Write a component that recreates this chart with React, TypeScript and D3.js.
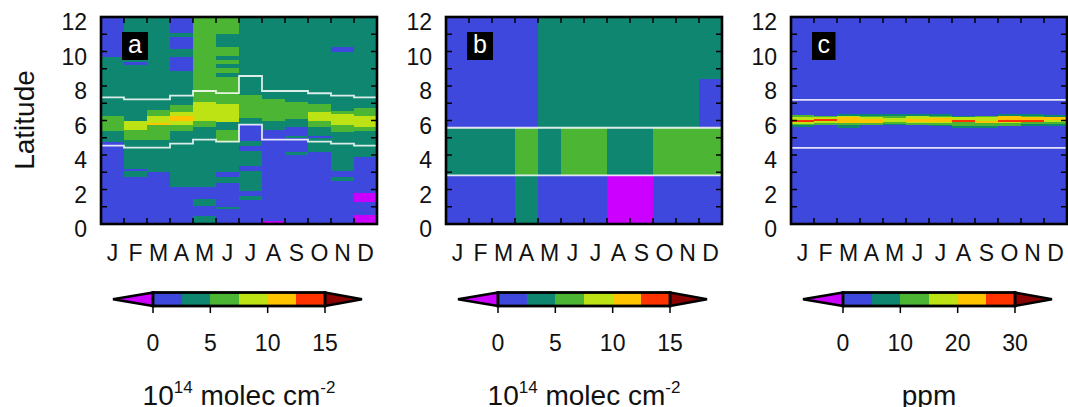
import React from 'react';
import * as d3 from 'd3';

const months = ['J', 'F', 'M', 'A', 'M', 'J', 'J', 'A', 'S', 'O', 'N', 'D'];
const latTicks = [0, 2, 4, 6, 8, 10, 12];

// colour classes (below range, 6 classes, above range)
const palette = ['#cc00ff', '#3f48dc', '#0f8670', '#4cb634', '#bde315', '#ffc400', '#ff3300', '#8b0000'];
const breaksColumn = [0, 2.5, 5, 7.5, 10, 12.5, 15];
const breaksPpm = [0, 5, 10, 15, 20, 25, 30];
const ticksColumn = [0, 5, 10, 15];
const ticksPpm = [0, 10, 20, 30];

// each month: list of [upper latitude, value]; a cell runs down to the next entry (or to 0)
const colsA = [
  [[12, 1.2], [9.66, 3.8], [6.28, 6.3], [5.41, 3.8], [4.77, 1.2]],
  [[12, 3.8], [9.41, 1.2], [9.24, 3.8], [5.99, 8.8], [5.45, 6.3], [4.87, 3.8], [3.19, 1.2], [3.05, 3.8], [2.71, 1.2]],
  [[12, 3.8], [6.61, 6.3], [6.26, 8.8], [5.84, 11.2], [5.74, 6.3], [4.87, 3.8], [3.0, 1.2]],
  [[12, 1.2], [11.1, 3.8], [10.86, 1.2], [10.14, 3.8], [9.66, 1.2], [8.89, 3.8], [6.92, 6.3], [6.47, 8.8], [6.28, 11.2], [5.99, 8.8], [5.74, 6.3], [5.41, 3.8], [2.13, 1.2]],
  [[12, 6.3], [7.05, 8.8], [5.99, 6.3], [5.6, 3.8], [2.13, 1.2], [1.45, 3.8], [1.06, 1.2], [0.48, 3.8]],
  [[12, 6.3], [11.0, 3.8], [10.28, 6.3], [9.76, 3.8], [9.53, 6.3], [9.28, 3.8], [9.03, 6.3], [8.74, 3.8], [8.54, 6.3], [6.96, 8.8], [5.89, 3.8], [5.45, 6.3], [4.73, 3.8], [3.04, 1.2], [2.74, 3.8], [2.36, 1.2], [1.0, 3.8], [0.87, 1.2]],
  [[12, 3.8], [7.48, 6.3], [6.14, 3.8], [5.8, 1.2], [4.83, 3.8], [4.54, 1.2], [4.21, 3.8], [3.38, 1.2], [3.05, 3.8], [1.89, 1.2], [1.64, 3.8], [1.39, 1.2]],
  [[12, 3.8], [7.25, 6.3], [5.99, 3.8], [5.45, 1.2], [0.2, -0.6]],
  [[12, 3.8], [7.1, 6.3], [6.1, 3.8], [5.6, 1.2], [5.12, 3.8], [4.98, 1.2], [4.15, 3.8], [4.01, 1.2]],
  [[12, 3.8], [6.96, 6.3], [6.51, 8.8], [5.99, 6.3], [5.6, 3.8], [5.12, 1.2], [4.98, 3.8], [4.2, 1.2]],
  [[12, 3.8], [10.28, 1.2], [10.0, 3.8], [6.57, 6.3], [6.4, 8.8], [5.76, 6.3], [5.31, 3.8], [3.05, 1.2], [2.74, 3.8], [2.51, 1.2]],
  [[12, 3.8], [6.72, 6.3], [6.28, 8.8], [5.64, 6.3], [5.41, 3.8], [3.86, 1.2], [1.77, -0.6], [1.3, 1.2], [0.54, -0.6]],
];
// monthly band edges drawn as white step lines on panel a
const northA = [7.34, 7.23, 7.23, 7.44, 7.71, 7.59, 8.58, 7.71, 7.71, 7.58, 7.44, 7.34];
const southA = [4.54, 4.43, 4.43, 4.66, 4.89, 4.77, 5.76, 4.89, 4.89, 4.77, 4.66, 4.54];

const colsB = [
  [[12, 1.2], [5.58, 3.8], [2.82, 1.2]],
  [[12, 1.2], [5.58, 3.8], [2.82, 1.2]],
  [[12, 1.2], [5.58, 3.8], [2.82, 1.2]],
  [[12, 1.2], [5.58, 6.3], [2.82, 3.8]],
  [[12, 3.8], [2.82, 1.2]],
  [[12, 3.8], [5.58, 6.3], [2.82, 1.2]],
  [[12, 3.8], [5.58, 6.3], [2.82, 1.2]],
  [[12, 3.8], [2.82, -0.6]],
  [[12, 3.8], [2.82, -0.6]],
  [[12, 3.8], [5.58, 6.3], [2.82, 1.2]],
  [[12, 3.8], [5.58, 6.3], [2.82, 1.2]],
  [[12, 3.8], [8.4, 1.2], [5.58, 6.3], [2.82, 1.2]],
];
const linesB = [5.58, 2.82];

const colsC = [
  [[12, 2], [6.3, 12.5], [6.2, 17.5], [6.05, 27.5], [5.9, 17.5], [5.82, 12.5], [5.74, 7.5], [5.64, 2]],
  [[12, 2], [6.26, 12.5], [6.19, 17.5], [6.09, 27.5], [5.97, 17.5], [5.84, 12.5], [5.74, 2]],
  [[12, 2], [6.36, 7.5], [6.26, 17.5], [6.19, 22.5], [5.84, 12.5], [5.74, 7.5], [5.54, 2]],
  [[12, 2], [6.36, 7.5], [6.26, 12.5], [6.19, 17.5], [6.09, 22.5], [5.84, 12.5], [5.74, 2]],
  [[12, 2], [6.38, 7.5], [6.28, 12.5], [6.17, 17.5], [5.89, 12.5], [5.82, 7.5], [5.76, 2]],
  [[12, 2], [6.36, 7.5], [6.26, 17.5], [6.09, 22.5], [5.93, 17.5], [5.84, 12.5], [5.74, 2]],
  [[12, 2], [6.36, 7.5], [6.26, 12.5], [6.19, 17.5], [6.12, 22.5], [5.89, 17.5], [5.84, 12.5], [5.74, 7.5], [5.68, 2]],
  [[12, 2], [6.26, 7.5], [6.19, 17.5], [6.03, 27.5], [5.89, 12.5], [5.7, 7.5], [5.58, 2]],
  [[12, 2], [6.26, 12.5], [6.19, 17.5], [5.99, 22.5], [5.84, 12.5], [5.7, 7.5], [5.58, 2]],
  [[12, 2], [6.36, 7.5], [6.26, 22.5], [6.03, 27.5], [5.89, 17.5], [5.84, 12.5], [5.7, 2]],
  [[12, 2], [6.36, 7.5], [6.26, 12.5], [6.19, 22.5], [6.03, 27.5], [5.89, 12.5], [5.8, 7.5], [5.7, 2]],
  [[12, 2], [6.32, 7.5], [6.22, 22.5], [6.03, 17.5], [5.93, 12.5], [5.8, 7.5], [5.7, 2]],
];
const linesC = [7.19, 4.41];

const FONT = '"Liberation Sans", Arial, Helvetica, sans-serif';
const TOP = 17;
const H = 207;
const W = 276;
const TICK_FS = 23;

const panels = [
  { left: 101, letter: 'a', boxW: 26, cols: colsA, breaks: breaksColumn, ticks: ticksColumn, unit: 'molec', steps: [northA, southA], lines: [] },
  { left: 446, letter: 'b', boxW: 26, cols: colsB, breaks: breaksColumn, ticks: ticksColumn, unit: 'molec', steps: [], lines: linesB },
  { left: 791, letter: 'c', boxW: 23.5, cols: colsC, breaks: breaksPpm, ticks: ticksPpm, unit: 'ppm', steps: [], lines: linesC },
];

function Panel({ p, showYTitle }) {
  const x = d3.scaleLinear().domain([0, 12]).range([p.left, p.left + W]);
  const y = d3.scaleLinear().domain([0, 12]).range([TOP + H, TOP]);
  const color = d3.scaleThreshold().domain(p.breaks).range(palette);

  const step = d3.line().curve(d3.curveStepAfter);

  // colour bar
  const lo = p.breaks[0];
  const hi = p.breaks[p.breaks.length - 1];
  const cb = d3.scaleLinear().domain([lo, hi]).range([p.left + 52, p.left + 224]);
  const barY = 292.5;
  const barH = 13.5;
  const midY = barY + barH / 2;
  const classes = d3.range(p.breaks.length - 1);

  return (
    <g>
      <g shapeRendering="crispEdges">
        {p.cols.map((col, m) =>
          col.map(([top, v], k) => {
            const bot = k + 1 < col.length ? col[k + 1][0] : 0;
            return (
              <rect key={m + '-' + k} x={x(m)} y={y(top)} width={x(m + 1) - x(m)}
                height={y(bot) - y(top)} fill={color(v)} />
            );
          })
        )}
      </g>

      {p.steps.map((s, i) => {
        const pts = s.map((v, m) => [x(m), y(v)]).concat([[x(12), y(s[s.length - 1])]]);
        return <path key={i} d={step(pts)} fill="none" stroke="#fff" strokeOpacity={0.85} strokeWidth={1.8} />;
      })}
      {p.lines.map((v, i) => (
        <line key={i} x1={x(0)} x2={x(12)} y1={y(v)} y2={y(v)} stroke="#fff" strokeOpacity={0.85} strokeWidth={1.8} />
      ))}

      {/* inward ticks */}
      {d3.range(13).map(v => (
        <g key={'yt' + v}>
          <line x1={x(0)} x2={x(0) + 6} y1={y(v)} y2={y(v)} stroke="#000" strokeWidth={1.5} />
          <line x1={x(12)} x2={x(12) - 6} y1={y(v)} y2={y(v)} stroke="#000" strokeWidth={1.5} />
        </g>
      ))}
      {d3.range(1, 12).map(m => (
        <g key={'xt' + m}>
          <line x1={x(m)} x2={x(m)} y1={TOP} y2={TOP + 6} stroke="#000" strokeWidth={1.5} />
          <line x1={x(m)} x2={x(m)} y1={TOP + H} y2={TOP + H - 6} stroke="#000" strokeWidth={1.5} />
        </g>
      ))}
      <rect x={x(0)} y={TOP} width={W} height={H} fill="none" stroke="#000" strokeWidth={2.6} />

      {/* panel letter */}
      <rect x={p.left + 21} y={32} width={p.boxW} height={28} fill="#000" />
      <text x={p.left + 21 + p.boxW / 2} y={53} fill="#fff" fontSize={25} textAnchor="middle">{p.letter}</text>

      {latTicks.map(v => (
        <text key={'yl' + v} x={x(0) - 14} y={y(v) + 13} fontSize={TICK_FS} textAnchor="end">{v}</text>
      ))}
      {months.map((mo, m) => (
        <text key={'ml' + m} x={(x(m) + x(m + 1)) / 2} y={261} fontSize={TICK_FS} textAnchor="middle">{mo}</text>
      ))}
      {showYTitle && (
        <text transform="translate(34,120) rotate(-90)" fontSize={28} textAnchor="middle">Latitude</text>
      )}

      {/* colour bar */}
      <path d={`M${cb(lo) - 40},${midY}L${cb(lo)},${barY}L${cb(lo)},${barY + barH}Z`} fill={palette[0]} stroke="#000" strokeWidth={2.5} strokeLinejoin="miter" />
      <path d={`M${cb(hi) + 37},${midY}L${cb(hi)},${barY}L${cb(hi)},${barY + barH}Z`} fill={palette[palette.length - 1]} stroke="#000" strokeWidth={2.5} />
      {classes.map(i => (
        <rect key={'cb' + i} x={cb(p.breaks[i])} y={barY} width={cb(p.breaks[i + 1]) - cb(p.breaks[i])} height={barH}
          fill={palette[i + 1]} shapeRendering="crispEdges" />
      ))}
      <rect x={cb(lo)} y={barY} width={cb(hi) - cb(lo)} height={barH} fill="none" stroke="#000" strokeWidth={2.8} />
      {p.ticks.map(t => (
        <g key={'ct' + t}>
          <line x1={cb(t)} x2={cb(t)} y1={barY + barH} y2={barY + barH + 7} stroke="#000" strokeWidth={1.5} />
          <text x={cb(t)} y={350.5} fontSize={TICK_FS} textAnchor="middle">{t}</text>
        </g>
      ))}
      {p.unit === 'ppm' ? (
        <text x={(cb(lo) + cb(hi)) / 2} y={405} fontSize={28} textAnchor="middle">ppm</text>
      ) : (
        <text x={(cb(lo) + cb(hi)) / 2} y={405} fontSize={28} textAnchor="middle">
          10<tspan dy={-12} fontSize={17}>14</tspan>
          <tspan dy={12} fontSize={28}> molec cm</tspan>
          <tspan dy={-12} fontSize={17}>-2</tspan>
        </text>
      )}
    </g>
  );
}

export default function App() {
  return (
    <svg width={1068} height={407} style={{ position: 'absolute', left: 0, top: 0, background: '#fff' }}
      fontFamily={FONT} fill="#111">
      {panels.map((p, i) => (
        <Panel key={p.letter} p={p} showYTitle={i === 0} />
      ))}
    </svg>
  );
}
